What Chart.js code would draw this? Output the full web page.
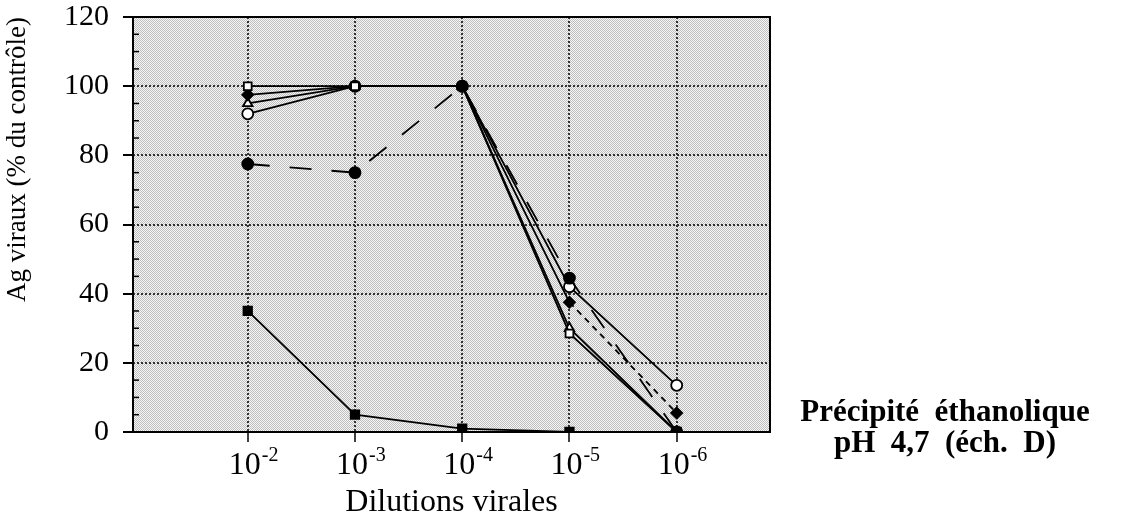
<!DOCTYPE html>
<html>
<head>
<title>Précipité éthanolique pH 4,7 (éch. D)</title>
<script src="https://cdn.jsdelivr.net/npm/chart.js@4.4.1/dist/chart.umd.min.js"></script>
<style>
    body { margin: 0; background: #fff; }
    #wrap { position: relative; width: 1124px; height: 522px; }
    #note {
        position: absolute;
        left: 785px;
        top: 395px;
        width: 320px;
        text-align: center;
        font: bold 31px "Liberation Serif", serif;
        line-height: 31px;
        white-space: pre;
        color: #000;
    }
</style>
</head>
<body>
<div id="wrap">
    <canvas id="chart" width="1124" height="522"></canvas>
    <div id="note">Précipité  éthanolique
pH  4,7  (éch.  D)</div>
</div>
<script>
// dilution labels (10^exp) and their positions on the x axis
const dilutionExp = ['-2', '-3', '-4', '-5', '-6'];
const xPos = [0, 1, 2, 3, 4];

// Ag viraux (% du contrôle)
const filledSquare = [35, 5, 1, 0, 0];
const filledCircle = [77.5, 75, 100, 44.5, 0];
const openSquare = [100, 100, 100, 28.5, 0];
const filledDiamond = [97.5, 100, 100, 37.5, 5.5];
const openTriangle = [95, 100, 100, 30, 0];
const openCircle = [92, 100, 100, 42, 13.5];

const yTicks = [0, 20, 40, 60, 80, 100, 120];

function pts(values) {
    return values.map((v, i) => ({ x: xPos[i], y: v }));
}

function series(values, style, filled, extra) {
    return Object.assign({
        data: pts(values),
        borderColor: '#000',
        borderWidth: 1.8,
        pointStyle: style,
        pointRadius: 5.5,
        pointBorderWidth: 1.8,
        pointBorderColor: '#000',
        pointBackgroundColor: filled ? '#000' : '#fff',
        tension: 0,
        fill: false
    }, extra || {});
}

// halftone-like background of the plot area
const pat = document.createElement('canvas');
pat.width = 2; pat.height = 2;
const pctx = pat.getContext('2d');
pctx.fillStyle = '#f7f7f7'; pctx.fillRect(0, 0, 2, 2);
pctx.fillStyle = '#bdbdbd'; pctx.fillRect(0, 0, 1, 1); pctx.fillRect(1, 1, 1, 1);

const serif = '"Liberation Serif", "Times New Roman", serif';

const framePlugin = {
    id: 'frame',
    beforeDraw(chart) {
        const a = chart.chartArea, c = chart.ctx;
        c.save();
        c.fillStyle = c.createPattern(pat, 'repeat');
        c.fillRect(a.left, a.top, a.right - a.left, a.bottom - a.top);
        c.restore();
    },
    beforeDatasetsDraw(chart) {
        const a = chart.chartArea, c = chart.ctx, y = chart.scales.y;
        c.save();
        c.strokeStyle = '#000';
        c.lineWidth = 2;
        c.strokeRect(a.left, a.top, a.right - a.left, a.bottom - a.top);
        // minor ticks every 5 units, inside the plot
        c.lineWidth = 1.5;
        for (let v = 5; v < 120; v += 5) {
            if (v % 20 === 0) continue;
            const py = y.getPixelForValue(v);
            c.beginPath();
            c.moveTo(a.left, py);
            c.lineTo(a.left + 6, py);
            c.stroke();
        }
        c.restore();
    },
    afterDraw(chart) {
        // x tick labels as 10 with a raised exponent
        const c = chart.ctx, x = chart.scales.x;
        c.save();
        c.fillStyle = '#000';
        c.textBaseline = 'alphabetic';
        xPos.forEach((v, i) => {
            const px = x.getPixelForValue(v);
            c.font = '32px ' + serif;
            c.textAlign = 'right';
            c.fillText('10', px + 13, 474);
            c.font = '20px ' + serif;
            c.textAlign = 'left';
            c.fillText(dilutionExp[i], px + 14, 461);
        });
        c.restore();
    }
};

new Chart(document.getElementById('chart'), {
    type: 'line',
    data: {
        datasets: [
            series(filledSquare, 'rect', true, { pointRadius: 6 }),
            series(filledCircle, 'circle', true, { borderDash: [22, 20] }),
            series(openSquare, 'rect', false),
            series(filledDiamond, 'rectRot', true, {
                segment: { borderDash: ctx => ctx.p0DataIndex >= 3 ? [6, 5] : undefined }
            }),
            series(openTriangle, 'triangle', false),
            series(openCircle, 'circle', false)
        ]
    },
    options: {
        responsive: false,
        animation: false,
        layout: { padding: { left: 2, top: 17, right: 354, bottom: 0 } },
        plugins: { legend: { display: false }, tooltip: { enabled: false } },
        scales: {
            x: {
                type: 'linear',
                min: -1.07,
                max: 4.87,
                afterBuildTicks: s => { s.ticks = xPos.map(v => ({ value: v })); },
                afterFit: s => { s.height = 90; s.paddingLeft = 0; s.paddingRight = 0; },
                grid: {
                    color: '#333',
                    lineWidth: 2,
                    tickLength: 10,
                    tickColor: '#000',
                    tickWidth: 1.5
                },
                border: { display: false, dash: [2, 2] },
                ticks: { display: false },
                title: {
                    display: true,
                    text: 'Dilutions virales',
                    color: '#000',
                    padding: { top: 0, bottom: 0 },
                    font: { family: serif, size: 32 }
                }
            },
            y: {
                min: 0,
                max: 120,
                afterBuildTicks: s => { s.ticks = yTicks.map(v => ({ value: v })); },
                afterFit: s => { s.width = 131; s.paddingTop = 0; s.paddingBottom = 0; },
                grid: {
                    color: c => (c.tick && (c.tick.value === 0 || c.tick.value === 120)) ? 'rgba(0,0,0,0)' : '#333',
                    lineWidth: 2,
                    tickLength: 10,
                    tickColor: '#000',
                    tickWidth: 2
                },
                border: { display: false, dash: [2, 2] },
                ticks: {
                    color: '#000',
                    padding: 14,
                    font: { family: serif, size: 30 }
                },
                title: {
                    display: true,
                    text: 'Ag viraux (% du contrôle)',
                    align: 'end',
                    color: '#000',
                    padding: { top: 0, bottom: 0 },
                    font: { family: serif, size: 27 }
                }
            }
        }
    },
    plugins: [framePlugin]
});
</script>
</body>
</html>
